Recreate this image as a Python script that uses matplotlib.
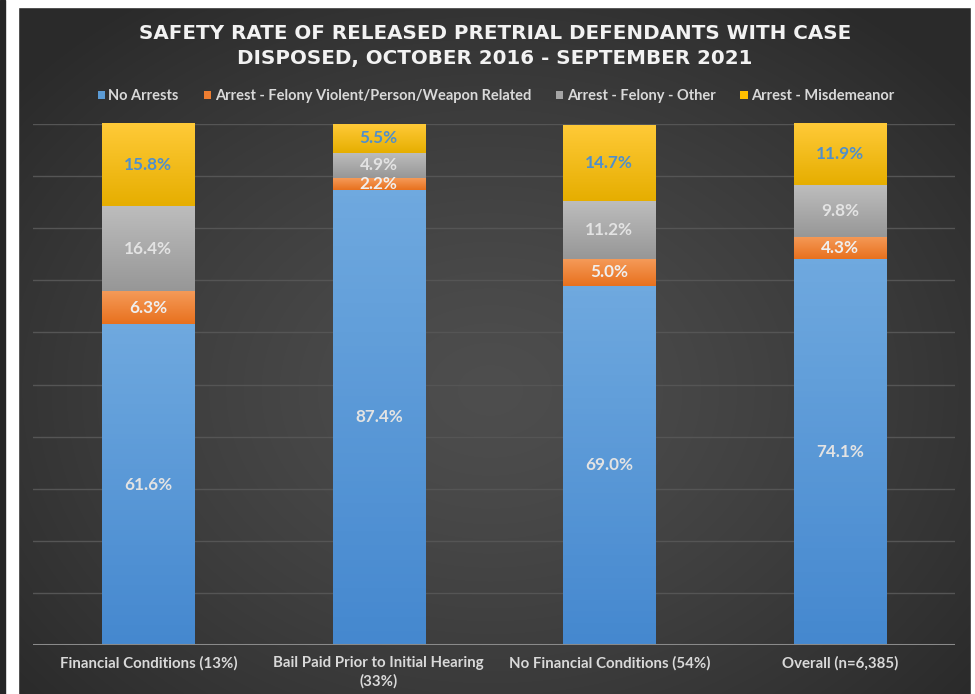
import numpy as np
import matplotlib
matplotlib.use("Agg")
import matplotlib.pyplot as plt
from matplotlib.patches import Patch, Rectangle
from matplotlib.colors import to_rgb

# ---------------- data ----------------
categories = ["Financial Conditions (13%)",
              "Bail Paid Prior to Initial Hearing\n(33%)",
              "No Financial Conditions (54%)",
              "Overall (n=6,385)"]
series_names = ["No Arrests",
                "Arrest - Felony Violent/Person/Weapon Related",
                "Arrest - Felony - Other",
                "Arrest - Misdemeanor"]
no_arrests = [61.6, 87.4, 69.0, 74.1]
felony_violent = [6.3, 2.2, 5.0, 4.3]
felony_other = [16.4, 4.9, 11.2, 9.8]
misdemeanor = [15.8, 5.5, 14.7, 11.9]
title = "SAFETY RATE OF RELEASED PRETRIAL DEFENDANTS WITH CASE\nDISPOSED, OCTOBER 2016 - SEPTEMBER 2021"

# ---------------- style ----------------
W, H = 975, 694
flat_colors = ["#5B9BD5", "#ED7D31", "#A5A5A5", "#FFC000"]
grad_top = ["#6FA9DF", "#F59A58", "#BDBDBD", "#FFCA38"]
grad_bot = ["#4588CF", "#E8711E", "#979797", "#E6AE00"]
label_colors = ["#E3E3E3", "#EFEFEF", "#E3E3E3", "#4F8FCC"]
text_col = "#D9D9D9"

fig = plt.figure(figsize=(W / 100, H / 100), dpi=100)
fig.patch.set_facecolor("white")

# background panel with radial gradient
bg = fig.add_axes([0, 0, 1, 1])
bg.set_xlim(0, W)
bg.set_ylim(H, 0)
bg.axis("off")
yy, xx = np.mgrid[0:H, 0:W]
cx, cy = 490, 390
r = np.sqrt(((xx - cx) / 620.0) ** 2 + ((yy - cy) / 480.0) ** 2)
v = 0.305 - 0.14 * np.clip(r, 0, 1) ** 1.3
img = np.dstack([v, v, v])
bg.imshow(img, extent=[0, W, H, 0], aspect="auto", zorder=0)
# white strips of the frame
bg.add_patch(Rectangle((5, 0), 13, H, color="white", zorder=1))
bg.add_patch(Rectangle((0, 0), W, 7, color="white", zorder=1))
bg.add_patch(Rectangle((971, 0), 4, H, color="white", zorder=1))
bg.add_patch(Rectangle((0, 0), 5, H, color="#262626", zorder=1))

# main axes
left, right, top, bottom = 33, 955, 124, 645
ax = fig.add_axes([left / W, (H - bottom) / H, (right - left) / W, (bottom - top) / H])
ax.set_facecolor("none")
x = np.arange(len(categories))
series = [no_arrests, felony_violent, felony_other, misdemeanor]
width = 0.4

for yv in range(10, 101, 10):
    ax.axhline(yv, color="#555555", lw=1.0, zorder=0.5)

base = np.zeros(len(categories))
for si, vals in enumerate(series):
    bars = ax.bar(x, vals, width, bottom=base, color=flat_colors[si],
                  edgecolor="none", zorder=2, label=series_names[si])
    c_top = np.array(to_rgb(grad_top[si]))
    c_bot = np.array(to_rgb(grad_bot[si]))
    t = np.linspace(0, 1, 64)[:, None]
    grad = (c_bot * (1 - t) + c_top * t)[:, None, :]
    for b in bars:
        bx, by, bw, bh = b.get_x(), b.get_y(), b.get_width(), b.get_height()
        im = ax.imshow(grad, extent=[bx, bx + bw, by, by + bh], origin="lower",
                       aspect="auto", zorder=2.5)
        im.set_clip_path(b)
    for xi, (b0, vv) in enumerate(zip(base, vals)):
        ax.text(x[xi], b0 + vv / 2, f"{vv:.1f}%", ha="center", va="center",
                color=label_colors[si], fontsize=12.3, fontweight="bold",
                family=["Lato", "DejaVu Sans"], zorder=4)
    base = base + np.array(vals)

ax.axhline(0, color="#8A8A8A", lw=2.2, zorder=3)
ax.set_xlim(-0.5, len(categories) - 0.5)
ax.set_ylim(0, 100)
ax.set_yticks([])
ax.set_xticks(x)
ax.set_xticklabels(categories, color=text_col, fontsize=10.8, fontweight="bold",
                   family=["Lato", "DejaVu Sans"], linespacing=1.35)
ax.tick_params(axis="x", length=0, pad=8)
for s in ax.spines.values():
    s.set_visible(False)

fig.text(495 / W, 1 - 46 / H, title, ha="center", va="center", color="#F2F2F2",
         fontsize=14.3, fontweight="bold", family="DejaVu Sans", linespacing=1.45)

handles = [Patch(facecolor=c, edgecolor="none") for c in flat_colors]
leg = fig.legend(handles, series_names, loc="center", bbox_to_anchor=(496 / W, 1 - 96 / H),
                 ncol=4, frameon=False, handlelength=0.5, handleheight=0.5,
                 handletextpad=0.25, columnspacing=1.7,
                 prop={"family": "Lato", "weight": "bold", "size": 10.5})
for t_ in leg.get_texts():
    t_.set_color(text_col)

fig.savefig("out.png", dpi=100, facecolor=fig.get_facecolor())
